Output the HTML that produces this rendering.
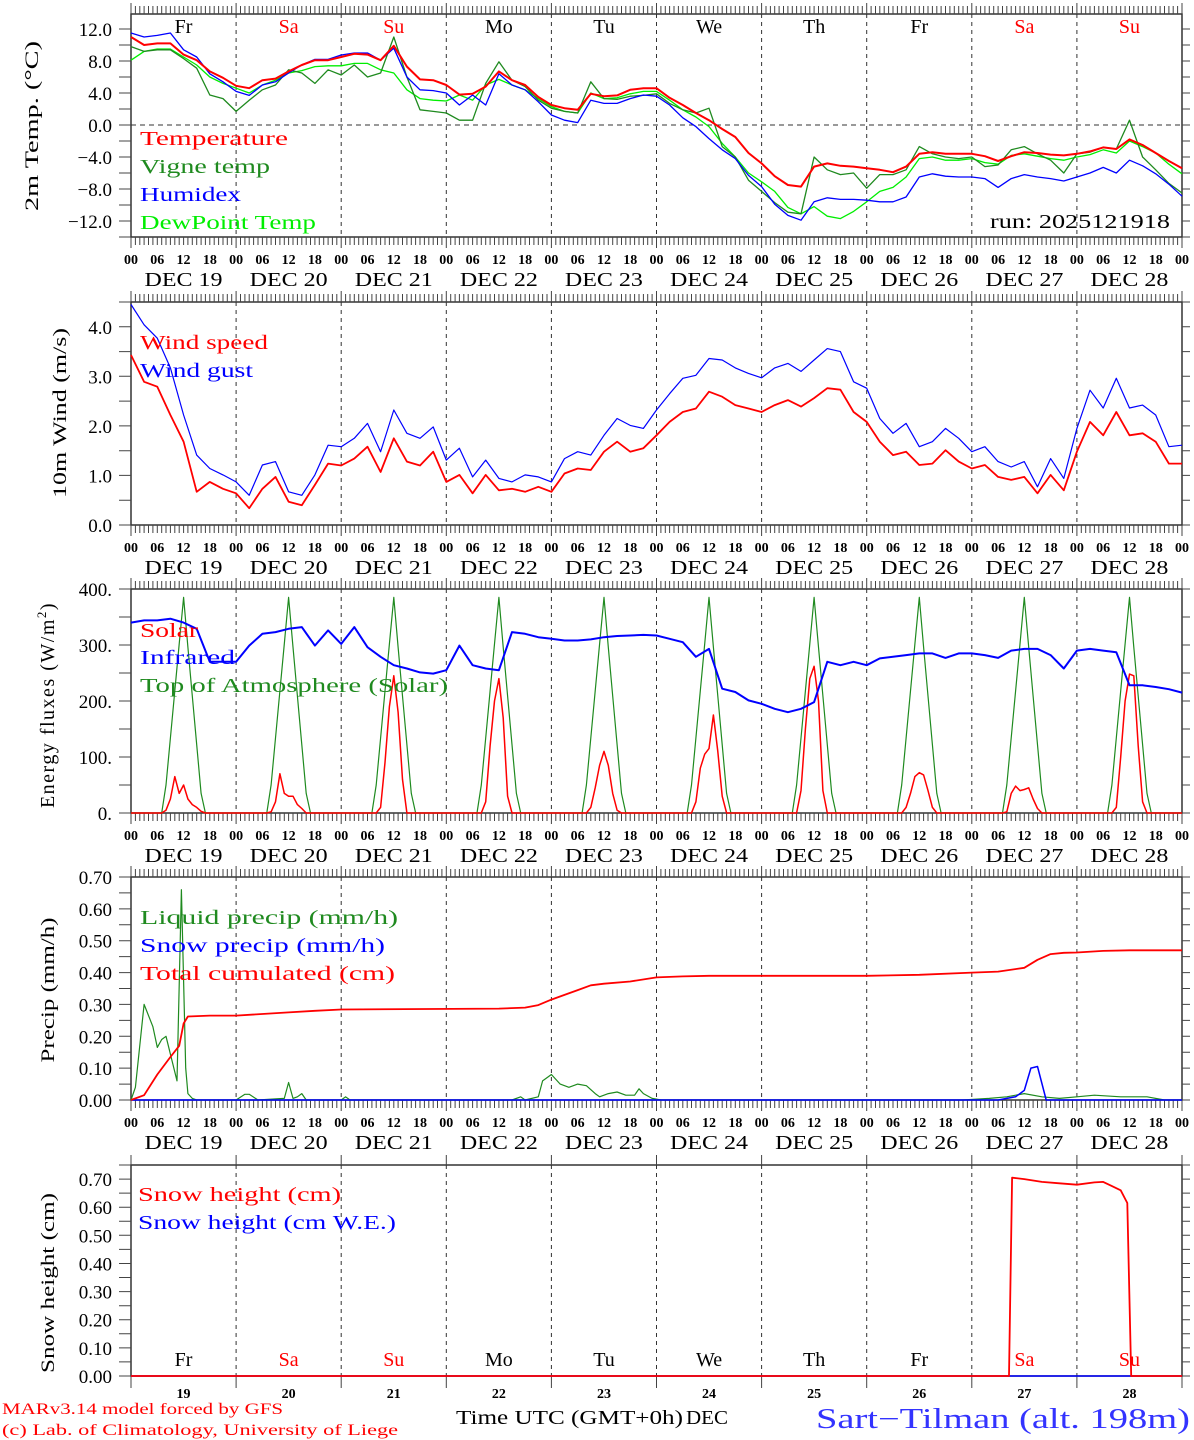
<!DOCTYPE html>
<html><head><meta charset="utf-8"><title>MAR forecast Sart-Tilman</title>
<style>html,body{margin:0;padding:0;background:#fff;}svg{display:block;}text{font-family:"Liberation Serif","DejaVu Serif",serif;}</style>
</head><body>
<svg id="chart" xmlns="http://www.w3.org/2000/svg" width="1194" height="1440" viewBox="0 0 1194 1440"></svg>
<script>
// ---------- data ----------
const dayNames = ['Fr','Sa','Su','Mo','Tu','We','Th','Fr','Sa','Su'];
const dayNums = ['19','20','21','22','23','24','25','26','27','28'];
const weekend = [false,true,true,false,false,false,false,false,true,true];
const hourLabels = ['00','06','12','18'];
// 3-hourly series from DEC 19 00 UTC (81 points)
const tempVals = [11.0,10.0,10.2,10.2,8.8,8.1,6.7,5.9, 4.9,4.6,5.6,5.8,6.7,7.5,8.1,8.1, 8.5,8.9,8.8,8.1,9.9,7.3,5.7,5.6, 5.0,3.8,3.9,4.8,6.7,5.6,5.0,3.5, 2.5,2.1,1.9,3.9,3.6,3.7,4.4,4.6, 4.6,3.4,2.5,1.5,0.6,-0.5,-1.5,-3.5, -4.8,-6.4,-7.5,-7.7,-5.2,-4.8,-5.1,-5.2, -5.4,-5.6,-5.9,-5.2,-3.6,-3.4,-3.6,-3.6, -3.6,-3.9,-4.5,-3.9,-3.4,-3.5,-3.7,-3.8, -3.6,-3.3,-2.8,-3.0,-1.8,-2.5,-3.5,-4.5,-5.4];
const vigneVals = [9.8,9.2,9.4,9.4,8.3,7.1,3.75,3.3, 1.7,3.1,4.4,5.0,6.9,6.5,5.2,6.9, 6.25,7.5,6.0,6.5,11.0,6.0,1.9,1.7, 1.5,0.6,0.6,5.2,7.9,5.6,4.8,3.1, 2.1,1.7,1.5,5.4,3.3,3.2,3.6,3.7, 3.9,2.7,1.9,1.5,2.1,-2.7,-4.0,-6.9, -8.3,-9.7,-10.9,-11.1,-4.0,-5.6,-6.2,-6.0, -7.9,-6.2,-6.2,-5.6,-2.7,-3.6,-4.0,-4.2, -4.0,-5.2,-5.0,-3.1,-2.7,-3.6,-4.4,-6.0, -3.6,-3.4,-2.8,-3.0,0.6,-4.0,-5.6,-7.3,-8.5];
const humidexVals = [11.5,11.0,11.2,11.5,9.4,8.5,6.4,5.4, 4.2,3.7,5.0,5.4,6.5,7.5,8.2,8.2, 8.75,9.0,9.0,8.1,9.6,6.0,4.4,4.3, 4.0,2.5,3.75,2.5,6.4,5.0,4.4,2.9, 1.25,0.6,0.3,3.1,2.7,2.7,3.3,3.75, 3.6,2.5,0.9,-0.2,-1.7,-3.1,-4.2,-6.3, -7.7,-9.9,-11.3,-11.9,-9.6,-9.1,-9.3,-9.3, -9.4,-9.6,-9.6,-9.0,-6.5,-6.1,-6.4,-6.5, -6.5,-6.7,-7.8,-6.7,-6.2,-6.5,-6.7,-7.0, -6.5,-6.0,-5.3,-6.0,-4.4,-5.1,-6.1,-7.4,-8.9];
const dewVals = [8.1,9.2,9.5,9.5,8.5,7.5,6.0,5.2, 4.6,4.0,5.0,5.6,6.5,6.8,7.3,7.4, 7.4,7.7,7.7,6.9,6.5,4.4,3.3,3.1, 3.0,3.75,3.1,5.0,5.7,5.0,4.4,3.3, 2.3,1.7,1.5,4.0,3.3,3.4,3.9,4.2, 4.2,3.1,1.9,1.0,-0.2,-2.3,-4.0,-6.0, -7.1,-8.3,-10.3,-11.1,-10.2,-11.4,-11.7,-10.8, -9.6,-8.3,-7.8,-6.5,-4.2,-4.0,-4.4,-4.4, -4.2,-4.7,-4.9,-3.8,-3.6,-3.9,-4.2,-4.4, -4.0,-3.7,-3.1,-3.5,-2.0,-2.7,-3.5,-4.9,-6.1];
const windVals = [3.43,2.89,2.79,2.22,1.68,0.67,0.87,0.73, 0.64,0.34,0.73,0.97,0.47,0.4,0.81,1.24, 1.2,1.34,1.58,1.07,1.75,1.28,1.2,1.48, 0.87,1.01,0.64,1.01,0.7,0.73,0.67,0.77, 0.67,1.04,1.14,1.11,1.48,1.68,1.48,1.55, 1.81,2.08,2.28,2.35,2.69,2.59,2.42,2.35, 2.28,2.42,2.52,2.39,2.56,2.76,2.73,2.28, 2.08,1.68,1.41,1.48,1.21,1.24,1.51,1.28, 1.14,1.21,0.97,0.91,0.97,0.64,1.01,0.7, 1.48,2.08,1.81,2.28,1.81,1.85,1.68,1.24,1.24];
const gustVals = [4.45,4.04,3.77,3.17,2.22,1.41,1.14,1.01, 0.87,0.6,1.21,1.28,0.67,0.6,1.01,1.61, 1.58,1.75,2.05,1.48,2.32,1.85,1.75,1.98, 1.31,1.55,0.97,1.31,0.94,0.87,1.01,0.97, 0.87,1.34,1.48,1.41,1.81,2.15,2.01,1.95, 2.32,2.65,2.96,3.02,3.36,3.33,3.17,3.06, 2.97,3.17,3.26,3.1,3.33,3.56,3.5,2.89, 2.76,2.15,1.85,2.05,1.58,1.68,1.95,1.75, 1.48,1.58,1.28,1.17,1.28,0.77,1.34,0.94, 1.95,2.72,2.36,2.96,2.36,2.42,2.22,1.58,1.61];
const irVals = [340,344,344,347,340,329,270,270, 270,299,320,323,329,332,299,326, 302,332,296,279,264,258,251,249, 255,299,264,258,255,323,320,314, 311,308,308,310,314,316,317,318, 317,311,305,279,293,222,216,201, 195,186,180,186,198,270,264,270, 264,276,279,282,285,285,277,285, 285,282,277,290,293,293,282,258, 290,293,290,287,228,228,225,221,215];
// hourly profiles (hours 7..17 of each day)
const profileHours = [7,8,9,10,11,12,13,14,15,16,17];
const toaProfile = [0,50,134,218,302,385,296,209,122,35,0];
const solarDays = [
  [0,5,25,65,35,50,25,15,10,3,0],
  [0,2,20,70,35,30,30,15,8,0,0],
  [0,0,10,90,190,245,180,60,0,0,0],
  [0,0,20,120,200,240,170,30,0,0,0],
  [0,0,10,45,85,110,85,35,5,0,0],
  [0,0,20,80,105,115,175,110,30,0,0],
  [0,0,40,150,240,262,200,40,0,0,0],
  [0,0,10,35,65,72,68,40,10,0,0],
  [0,2,35,48,40,42,45,25,8,0,0],
  [0,0,10,100,200,248,245,120,20,0,0]
];
const liqHours = [0,1,3,5,6,7,8,10.5,11.5,12.5,13,14,15,24,26,27,29,35,36,37,38,39,40,48,49,50,87,89,90,93,94,96,98,100,102,104,106,107,109,111,113,115,116,117,119,121,190,196,200,204,208,212,216,220,226,232,236,240];
const liqVals  = [0,0.04,0.30,0.23,0.165,0.19,0.20,0.06,0.66,0.1,0.02,0.005,0,0,0.018,0.018,0,0.005,0.055,0.005,0.01,0.02,0,0,0.01,0,0,0.01,0,0.01,0.06,0.08,0.05,0.04,0.05,0.045,0.02,0.01,0.02,0.025,0.015,0.015,0.035,0.02,0.005,0,0,0.005,0.01,0.02,0.01,0.005,0.01,0.015,0.01,0.01,0,0];
const snowPHours = [0,198,202,204,205.5,207,209,240];
const snowPVals  = [0,0,0.01,0.03,0.1,0.105,0,0];
const cumHours = [0,3,6,9,11,12,13,18,24,36,42,48,84,90,93,96,99,102,105,108,114,120,126,132,168,180,192,198,204,207,210,213,216,222,228,240];
const cumVals  = [0,0.015,0.08,0.135,0.17,0.24,0.262,0.265,0.265,0.275,0.28,0.284,0.287,0.29,0.298,0.315,0.33,0.345,0.36,0.365,0.372,0.385,0.388,0.39,0.39,0.393,0.40,0.403,0.415,0.44,0.458,0.462,0.463,0.468,0.47,0.47];
const snowHHours = [0,200.5,201.2,204,208,212,216,220,222,224,226,227.5,228.4,240];
const snowHVals  = [0,0,0.705,0.70,0.69,0.685,0.68,0.688,0.69,0.675,0.66,0.615,0,0];
const snowWEHours = [0,240];
const snowWEVals = [0,0];
const tempTicks = ['12.0','8.0','4.0','0.0','\u22124.0','\u22128.0','\u221212.0'];
const tempTickVals = [12,8,4,0,-4,-8,-12];
const windTicks = ['0.0','1.0','2.0','3.0','4.0'];
const windTickVals = [0,1,2,3,4];
const fluxTicks = ['0.','100.','200.','300.','400.'];
const fluxTickVals = [0,100,200,300,400];
const precTicks = ['0.00','0.10','0.20','0.30','0.40','0.50','0.60','0.70'];
const precTickVals = [0,0.1,0.2,0.3,0.4,0.5,0.6,0.7];

// ---------- drawing ----------
const NS = 'http://www.w3.org/2000/svg';
const svg = document.getElementById('chart');
const X0 = 131, X1 = 1182, HOURS = 240;
function xOf(h){ return X0 + (X1 - X0) * h / HOURS; }
function mk(tag, attrs, parent){ const e = document.createElementNS(NS, tag); for (const k in attrs) e.setAttribute(k, attrs[k]); (parent || svg).appendChild(e); return e; }
function txt(s, x, y, size, fill, anchor, parent, len){ const t = mk('text', {x:x, y:y, 'font-size':size, fill:fill||'#000', 'text-anchor':anchor||'start'}, parent); if (len){ t.setAttribute('textLength', len); t.setAttribute('lengthAdjust','spacingAndGlyphs'); } t.textContent = s; return t; }

const panels = [
  {key:'temp', top:14, bottom:237, min:-14, max:13.875, minor:2},
  {key:'wind', top:302, bottom:525, min:0, max:4.5, minor:0.5},
  {key:'flux', top:589, bottom:813, min:0, max:400, minor:50},
  {key:'prec', top:877, bottom:1100, min:0, max:0.7, minor:0.05},
  {key:'snow', top:1165, bottom:1376, min:0, max:0.75, minor:0.05}
];
function yFn(p){ return v => p.bottom - (v - p.min) / (p.max - p.min) * (p.bottom - p.top); }

function series(g, hours, vals, y, color, w, name){
  let d = '';
  for (let i = 0; i < vals.length; i++) d += (i ? 'L' : 'M') + xOf(hours[i]).toFixed(1) + ' ' + y(vals[i]).toFixed(1);
  const p = mk('path', {d:d, fill:'none', stroke:color, 'stroke-width':w, 'stroke-linejoin':'round'}, g);
  
  
  return p;
}
const h3 = tempVals.map((_, i) => i * 3);

function frame(p, idx){
  const g = mk('g', {});
  
  
  const y = yFn(p);
  for (let d = 1; d < 10; d++){
    const l = mk('line', {x1:xOf(d*24), x2:xOf(d*24), y1:p.top, y2:p.bottom, stroke:'#333', 'stroke-width':1, 'stroke-dasharray':'4,4'}, g);
    
    
  }
  const r = mk('rect', {x:X0, y:p.top, width:X1-X0, height:p.bottom-p.top, fill:'none', stroke:'#333', 'stroke-width':1.5}, g);
  
  
  let tp = '';
  for (let v = Math.ceil(p.min / p.minor) * p.minor; v <= p.max + 1e-9; v += p.minor){
    const yy = y(v).toFixed(1);
    tp += 'M' + (X0-12) + ' ' + yy + 'H' + X0 + 'M' + X1 + ' ' + yy + 'H' + (X1+8);
  }
  if (idx < 4){
    for (let h = 0; h <= 240; h++){
      const x = xOf(h).toFixed(1);
      const len = (h % 24 === 0) ? 11 : 8;
      tp += 'M' + x + ' ' + p.top + 'V' + (p.top - len) + 'M' + x + ' ' + p.bottom + 'V' + (p.bottom + len);
    }
  } else {
    for (let d = 0; d <= 10; d++){ const x = xOf(d*24).toFixed(1); tp += 'M' + x + ' ' + p.bottom + 'V' + (p.bottom + 12) + 'M' + x + ' ' + p.top + 'V' + (p.top - 10); }
  }
  const t = mk('path', {d:tp, stroke:'#444', 'stroke-width':1, fill:'none'}, g);
  
  
  if (idx < 4){
    for (let d = 0; d < 10; d++){
      for (let k = 0; k < 4; k++){
        const hl = txt(hourLabels[k], xOf(d*24 + k*6), p.bottom + 27, 14, '#000', 'middle', g);
        hl.setAttribute('font-weight', 'bold');
        
        
      }
      const dl = txt('DEC ' + dayNums[d], xOf(d*24 + 12), p.bottom + 49, 20, '#000', 'middle', g, 78);
      
      
    }
    const hl = txt('00', xOf(240), p.bottom + 27, 14, '#000', 'middle', g);
    hl.setAttribute('font-weight', 'bold');
    
    
  }
  return {g:g, y:y};
}
function yLabels(g, y, labels, vals){
  for (let i = 0; i < labels.length; i++){
    const t = txt(labels[i], 112, y(vals[i]) + 7, 19, '#000', 'end', g);
    
    
  }
}
function yTitle(g, s, cx, cy, len){
  const t = txt(s, cx, cy, 19, '#000', 'middle', g, len);
  t.setAttribute('transform', 'rotate(-90 ' + cx + ' ' + cy + ')');
  
  
  return t;
}
function legend(g, s, x, y, color, len, name){
  const t = txt(s, x, y, 20, color, 'start', g, len);
  
  
}

// Panel 1: temperature
(function(){
  const p = panels[0]; const f = frame(p, 0); const g = f.g, y = f.y;
  const z = mk('line', {x1:X0, x2:X1, y1:y(0), y2:y(0), stroke:'#333', 'stroke-dasharray':'5,4'}, g);
  
  
  yLabels(g, y, tempTicks, tempTickVals);
  yTitle(g, '2m Temp. (\u00B0C)', 38, 126, 170);
  for (let d = 0; d < 10; d++){
    const t = txt(dayNames[d], xOf(d*24+12), 33, 20, weekend[d] ? '#ff0000' : '#000', 'middle', g);
    
    
  }
  series(g, h3, dewVals, y, '#00ee00', 1.3, 'dewpoint-line');
  series(g, h3, vigneVals, y, '#1f8a1f', 1.3, 'vigne-temp-line');
  series(g, h3, humidexVals, y, '#0000ff', 1.3, 'humidex-line');
  series(g, h3, tempVals, y, '#ff0000', 2, 'temperature-line');
  legend(g, 'Temperature', 140, 145, '#ff0000', 148, 'legend-temperature');
  legend(g, 'Vigne temp', 140, 173, '#1f8a1f', 130, 'legend-vigne-temp');
  legend(g, 'Humidex', 140, 201, '#0000ff', 101, 'legend-humidex');
  legend(g, 'DewPoint Temp', 140, 229, '#00ee00', 176, 'legend-dewpoint');
  const rn = txt('run: 2025121918', 1170, 228, 20, '#000', 'end', g, 180);
  
  
})();

// Panel 2: wind
(function(){
  const p = panels[1]; const f = frame(p, 1); const g = f.g, y = f.y;
  yLabels(g, y, windTicks, windTickVals);
  yTitle(g, '10m Wind (m/s)', 66, 413, 170);
  series(g, h3, gustVals, y, '#0000ff', 1.2, 'wind-gust-line');
  series(g, h3, windVals, y, '#ff0000', 1.8, 'wind-speed-line');
  legend(g, 'Wind speed', 140, 349, '#ff0000', 128, 'legend-wind-speed');
  legend(g, 'Wind gust', 140, 377, '#0000ff', 113, 'legend-wind-gust');
})();

// Panel 3: energy fluxes
(function(){
  const p = panels[2]; const f = frame(p, 2); const g = f.g, y = f.y;
  yLabels(g, y, fluxTicks, fluxTickVals);
  const t = yTitle(g, 'Energy fluxes (W/m', 54, 705, 0);
  t.removeAttribute('textLength');
  t.setAttribute('font-size', 20);
  t.setAttribute('letter-spacing', 1.5);
  const sup = mk('tspan', {'font-size':13, dy:-8}, t); sup.textContent = '2';
  const cl = mk('tspan', {dy:8}, t); cl.textContent = ')';
  const toaH = [], toaV = [], solH = [], solV = [];
  for (let d = 0; d < 10; d++){
    for (let k = 0; k < profileHours.length; k++){
      toaH.push(d*24 + profileHours[k]); toaV.push(toaProfile[k]);
      solH.push(d*24 + profileHours[k]); solV.push(solarDays[d][k]);
    }
  }
  toaH.unshift(0); toaV.unshift(0); toaH.push(240); toaV.push(0);
  solH.unshift(0); solV.unshift(0); solH.push(240); solV.push(0);
  series(g, toaH, toaV, y, '#1f8a1f', 1.2, 'toa-solar-line');
  series(g, solH, solV, y, '#ff0000', 1.5, 'solar-line');
  series(g, h3, irVals, y, '#0000ff', 2, 'infrared-line');
  legend(g, 'Solar', 140, 637, '#ff0000', 58, 'legend-solar');
  legend(g, 'Infrared', 140, 664, '#0000ff', 95, 'legend-infrared');
  legend(g, 'Top of Atmosphere (Solar)', 140, 692, '#1f8a1f', 308, 'legend-toa-solar');
})();

// Panel 4: precipitation
(function(){
  const p = panels[3]; const f = frame(p, 3); const g = f.g, y = f.y;
  yLabels(g, y, precTicks, precTickVals);
  yTitle(g, 'Precip (mm/h)', 54, 990, 145);
  series(g, liqHours, liqVals, y, '#1f8a1f', 1.2, 'liquid-precip-line');
  series(g, snowPHours, snowPVals, y, '#0000ff', 1.5, 'snow-precip-line');
  series(g, cumHours, cumVals, y, '#ff0000', 1.8, 'total-cumulated-line');
  legend(g, 'Liquid precip (mm/h)', 140, 924, '#1f8a1f', 258, 'legend-liquid-precip');
  legend(g, 'Snow precip (mm/h)', 140, 952, '#0000ff', 245, 'legend-snow-precip');
  legend(g, 'Total cumulated (cm)', 140, 980, '#ff0000', 255, 'legend-total-cumulated');
})();

// Panel 5: snow height
(function(){
  const p = panels[4]; const f = frame(p, 4); const g = f.g, y = f.y;
  yLabels(g, y, precTicks, precTickVals);
  yTitle(g, 'Snow height (cm)', 54, 1283, 180);
  for (let d = 0; d < 10; d++){
    const t = txt(dayNames[d], xOf(d*24+12), 1366, 20, weekend[d] ? '#ff0000' : '#000', 'middle', g);
    
    
    const n = txt(dayNums[d], xOf(d*24+12), 1398, 14, '#000', 'middle', g);
    n.setAttribute('font-weight', 'bold');
    
    
  }
  series(g, snowWEHours, snowWEVals, y, '#0000ff', 1.5, 'snow-height-we-line');
  series(g, snowHHours, snowHVals, y, '#ff0000', 1.8, 'snow-height-line');
  legend(g, 'Snow height (cm)', 138, 1201, '#ff0000', 203, 'legend-snow-height');
  legend(g, 'Snow height (cm W.E.)', 138, 1229, '#0000ff', 258, 'legend-snow-height-we');
})();

// footer
const f1 = txt('Time UTC (GMT+0h)', 456, 1424, 20, '#000', 'start', null, 227);


const f2 = txt('DEC', 686, 1424, 20, '#000', 'start', null, 42);


const f3 = txt('MARv3.14 model forced by GFS', 2, 1414, 16, '#ff0000', 'start', null, 281);


const f4 = txt('(c) Lab. of Climatology, University of Liege', 2, 1435, 16, '#ff0000', 'start', null, 396);


const f5 = txt('Sart\u2212Tilman (alt. 198m)', 816, 1428, 28, '#3333ff', 'start', null, 374);


</script>
</body></html>
